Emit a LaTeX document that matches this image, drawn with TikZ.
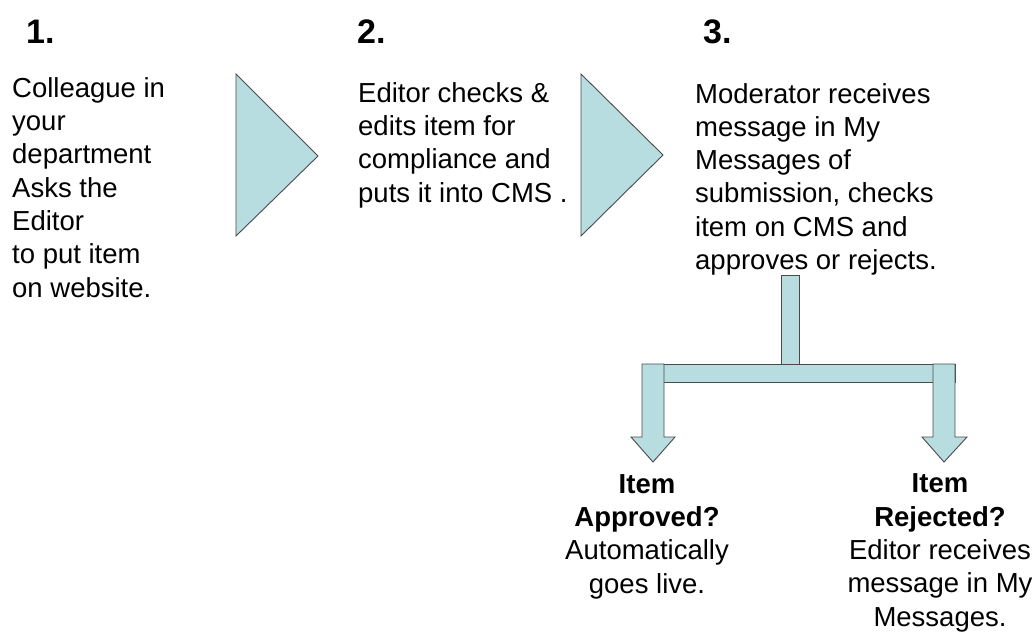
\documentclass[tikz,border=0pt]{standalone}
\usepackage{fontspec}
\setmainfont{Liberation Sans}
\definecolor{flowfill}{HTML}{B7DDE0}
\definecolor{flowline}{HTML}{4A4A4A}
\begin{document}
\begin{tikzpicture}[x=1pt,y=-1pt,
  blockshape/.style={fill=flowfill,draw=flowline,line width=0.9pt,line join=miter},
  steptitle/.style={inner sep=0pt,anchor=base west,font=\fontsize{34}{40}\selectfont\bfseries},
  bodytext/.style={inner sep=0pt,anchor=base west,align=left,font=\fontsize{27.5}{33.3}\selectfont},
  outcome/.style={inner sep=0pt,anchor=base,align=center,font=\fontsize{27.5}{33.3}\selectfont}]
\useasboundingbox (0,0) rectangle (1036,633);

% step numbers
\node[steptitle] (n1) at (26,43) {1.};
\node[steptitle] (n2) at (357,43) {2.};
\node[steptitle] (n3) at (703,43) {3.};

% step descriptions (positioned by the baseline of their last line)
\node[bodytext] (t1) at (12,297) {Colleague in\\your\\department\\Asks the\\Editor\\to put item\\on website.};
\node[bodytext] (t2) at (358,202) {Editor checks \&\\edits item for\\compliance and\\puts it into CMS .};
\node[bodytext] (t3) at (695,269.5) {Moderator receives\\message in My\\Messages of\\submission, checks\\item on CMS and\\approves or rejects.};

% chevrons between the steps
\draw[blockshape] (236,74) -- (318,156) -- (236,236) -- cycle;
\draw[blockshape] (581,74) -- (663,155) -- (581,236) -- cycle;

% decision branch below step 3
\draw[blockshape] (781,275) rectangle (799,364);
\draw[blockshape] (642,364) rectangle (955,382);
\draw[blockshape] (642,364) -- (664,364) -- (664,437) -- (675,437) -- (653,462)
  -- (631,437) -- (642,437) -- cycle;
\draw[blockshape] (933,364) -- (955,364) -- (955,437) -- (967,437) -- (944,462)
  -- (922,437) -- (933,437) -- cycle;

% outcomes
\node[outcome] (ok) at (647,593) {\textbf{Item}\\\textbf{Approved?}\\Automatically\\goes live.};
\node[outcome] (no) at (940,626) {\textbf{Item}\\\textbf{Rejected?}\\Editor receives\\message in My\\Messages.};
\end{tikzpicture}
\end{document}
